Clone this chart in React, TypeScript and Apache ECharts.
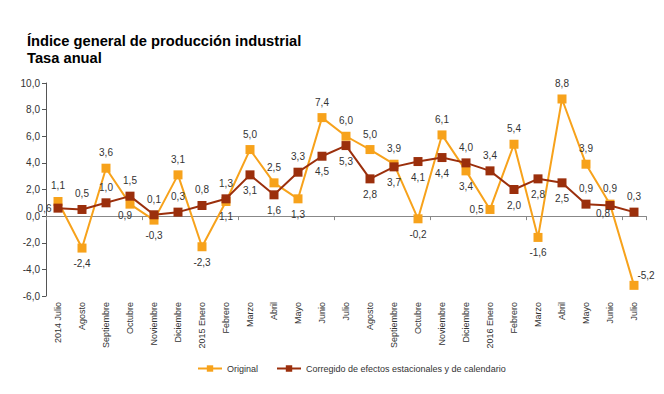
import React, { useEffect, useRef } from "react";
import * as echarts from "echarts";

const categories = [
  "2014 Julio", "Agosto", "Septiembre", "Octubre", "Noviembre", "Diciembre",
  "2015 Enero", "Febrero", "Marzo", "Abril", "Mayo", "Junio", "Julio", "Agosto",
  "Septiembre", "Octubre", "Noviembre", "Diciembre", "2016 Enero", "Febrero",
  "Marzo", "Abril", "Mayo", "Junio", "Julio",
];

const original = [
  1.1, -2.4, 3.6, 0.9, -0.3, 3.1, -2.3, 1.1, 5.0, 2.5, 1.3, 7.4, 6.0, 5.0, 3.9,
  -0.2, 6.1, 3.4, 0.5, 5.4, -1.6, 8.8, 3.9, 0.9, -5.2,
];

const corregido = [
  0.6, 0.5, 1.0, 1.5, 0.1, 0.3, 0.8, 1.3, 3.1, 1.6, 3.3, 4.5, 5.3, 2.8, 3.7,
  4.1, 4.4, 4.0, 3.4, 2.0, 2.8, 2.5, 0.9, 0.8, 0.3,
];

const seriesNames = ["Original", "Corregido de efectos estacionales y de calendario"];

// label placement (styling only)
const origPos = [
  "top", "bottom", "top", "bl", "bottom", "top", "bottom", "bottom", "top", "top",
  "bottom", "top", "top", "top", "top", "bottom", "top", "bottom", "left", "top",
  "bottom", "top", "top", "top", "tr",
];
const corrPos = [
  "left", "top", "top", "top", "top", "top", "top", "top", "bottom", "bottom",
  "top", "bottom", "bottom", "bottom", "bottom", "bottom", "bottom", "top", "top",
  "bottom", "bottom", "bottom", "top", "bl2", "top",
];

const fmt = (v: number) => v.toFixed(1).replace(".", ",");

function labelFor(p: string) {
  if (p === "bl") return { position: "bottom", offset: [-5, -4] };
  if (p === "bl2") return { position: "bottom", offset: [-7, -7] };
  if (p === "tr") return { position: "top", offset: [12, 6] };
  if (p === "left") return { position: "left", distance: 2 };
  return { position: p };
}

const FONT = "'Liberation Sans', Arial, sans-serif";

export default function App() {
  const ref = useRef<HTMLDivElement>(null);
  useEffect(() => {
    if (!ref.current) return;
    const chart = echarts.init(ref.current, null, { renderer: "svg" });
    const orange = "#F7A21B";
    const red = "#9B2F0C";
    chart.setOption({
      animation: false,
      textStyle: { fontFamily: FONT },
      title: {
        text: "Índice general de producción industrial\nTasa anual",
        left: 22,
        top: 27,
        textStyle: { fontSize: 14.7, fontWeight: "bold", color: "#000", lineHeight: 17, fontFamily: FONT },
      },
      legend: {
        left: 192,
        top: 359,
        itemWidth: 24,
        itemHeight: 8,
        itemGap: 18,
        textStyle: { fontSize: 9, color: "#333", fontFamily: FONT },
        data: seriesNames,
      },
      grid: { left: 46, right: 18, top: 83, bottom: 98 },
      xAxis: [
        {
          type: "category",
          data: categories,
          position: "bottom",
          axisLine: { show: false, onZero: false },
          axisTick: { show: false },
          axisLabel: { rotate: 90, fontSize: 9, color: "#333", margin: 6, interval: 0 },
        },
        {
          type: "category",
          data: categories,
          position: "bottom",
          axisLine: { show: true, onZero: true, lineStyle: { color: "#888", width: 1 } },
          axisTick: { show: true, length: 4, lineStyle: { color: "#888" } },
          axisLabel: { show: false },
        },
      ],
      yAxis: {
        type: "value",
        min: -6,
        max: 10,
        interval: 2,
        axisLine: { show: true, lineStyle: { color: "#555" } },
        axisTick: { show: true, length: 4, lineStyle: { color: "#555" } },
        splitLine: { show: false },
        axisLabel: { fontSize: 10, color: "#333", formatter: (v: number) => fmt(v), margin: 6 },
      },
      series: [
        {
          name: seriesNames[0],
          type: "line",
          xAxisIndex: 0,
          data: original.map((v, i) => ({ value: v, label: labelFor(origPos[i]) })),
          symbol: "rect",
          symbolSize: 9,
          lineStyle: { color: orange, width: 2 },
          itemStyle: { color: orange },
          z: 2,
          label: { show: true, fontSize: 10, color: "#333", formatter: (p: any) => fmt(p.value), distance: 6 },
        },
        {
          name: seriesNames[1],
          type: "line",
          xAxisIndex: 0,
          data: corregido.map((v, i) => ({ value: v, label: labelFor(corrPos[i]) })),
          symbol: "rect",
          symbolSize: 9,
          lineStyle: { color: red, width: 2 },
          itemStyle: { color: red },
          z: 3,
          label: { show: true, fontSize: 10, color: "#333", formatter: (p: any) => fmt(p.value), distance: 6 },
        },
      ],
    });
    return () => chart.dispose();
  }, []);
  return <div ref={ref} style={{ width: 664, height: 394, margin: -8, background: "#fff" }} />;
}
